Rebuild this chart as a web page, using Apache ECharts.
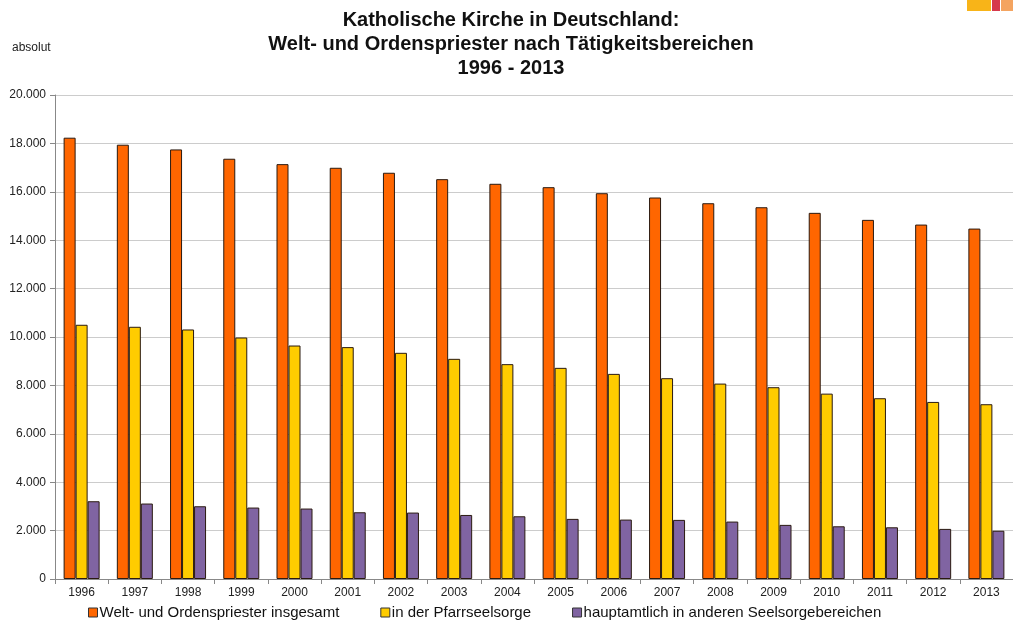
<!DOCTYPE html>
<html>
<head>
<meta charset="utf-8">
<script src="https://cdn.jsdelivr.net/npm/echarts@6/dist/echarts.min.js"></script>
<style>
html,body{margin:0;padding:0;background:#fff;}
#chart{width:1013px;height:623px;}
</style>
</head>
<body>
<div id="chart"></div>
<script>
const years = ['1996','1997','1998','1999','2000','2001','2002','2003','2004','2005','2006','2007','2008','2009','2010','2011','2012','2013'];
const seriesNames = ['Welt- und Ordenspriester insgesamt','in der Pfarrseelsorge','hauptamtlich in anderen Seelsorgebereichen'];
const insgesamt = [18236,17946,17751,17366,17143,16993,16787,16522,16331,16191,15942,15764,15528,15362,15130,14840,14646,14480];
const pfarrseelsorge = [10505,10422,10311,9979,9648,9582,9346,9098,8878,8725,8476,8298,8075,7925,7660,7470,7317,7222];
const andere = [3213,3118,3006,2952,2911,2758,2745,2646,2592,2484,2455,2443,2373,2236,2178,2137,2070,1995];
const colors = ['#FF6600','#FFCC00','#8064A2'];
const titleText = 'Katholische Kirche in Deutschland:\nWelt- und Ordenspriester nach Tätigkeitsbereichen\n1996 - 2013';
const unitLabel = 'absolut';

function fmt(v){ return String(v).replace(/\B(?=(\d{3})+(?!\d))/g,'.'); }

const chart = echarts.init(document.getElementById('chart'), null, {renderer:'canvas'});
const dataSets = [insgesamt, pfarrseelsorge, andere];
chart.setOption({
  animation:false,
  backgroundColor:'#fff',
  title:{
    text:titleText,
    left:506, top:3, textAlign:'center',
    textStyle:{fontFamily:'Liberation Sans, Arial, sans-serif',fontSize:20,fontWeight:'bold',color:'#111',lineHeight:24}
  },
  graphic:[
    {type:'text', left:12, top:42, style:{text:unitLabel, fontFamily:'Liberation Sans, Arial, sans-serif', fontSize:12, fill:'#222'}},
    {type:'rect', shape:{x:967,y:0,width:24,height:11}, style:{fill:'#F8B418'}},
    {type:'rect', shape:{x:992,y:0,width:8,height:11}, style:{fill:'#D6394C'}},
    {type:'rect', shape:{x:1001,y:0,width:12,height:11}, style:{fill:'#F4A460'}}
  ],
  legend:{
    left:88, top:605, padding:0, itemWidth:9, itemHeight:9, itemGap:41,
    icon:'rect',
    textStyle:{fontFamily:'Liberation Sans, Arial, sans-serif',fontSize:15,color:'#111',padding:[0,0,0,-3]},
    data:seriesNames.map((n,i)=>({name:n, itemStyle:{color:colors[i],borderColor:'#333',borderWidth:1}}))
  },
  grid:{left:55, top:95, width:965, height:484, containLabel:false},
  xAxis:{
    type:'category', data:years,
    axisLine:{lineStyle:{color:'#888',width:1}},
    axisTick:{show:true,length:5,lineStyle:{color:'#888'}},
    axisLabel:{fontFamily:'Liberation Sans, Arial, sans-serif',fontSize:12,color:'#222',margin:8}
  },
  yAxis:{
    type:'value', min:0, max:20000, interval:2000,
    axisLine:{show:true,lineStyle:{color:'#888',width:1}},
    axisTick:{show:true,length:5,lineStyle:{color:'#888'}},
    axisLabel:{fontFamily:'Liberation Sans, Arial, sans-serif',fontSize:12,color:'#222',margin:9,formatter:fmt},
    splitLine:{lineStyle:{color:'#cccccc',width:1}}
  },
  series:dataSets.map((d,i)=>({
    name:seriesNames[i], type:'bar', data:d,
    barWidth:12, barGap:'0%',
    itemStyle:{color:colors[i], borderColor:'#2a1a10', borderWidth:1}
  }))
});
</script>
</body>
</html>
